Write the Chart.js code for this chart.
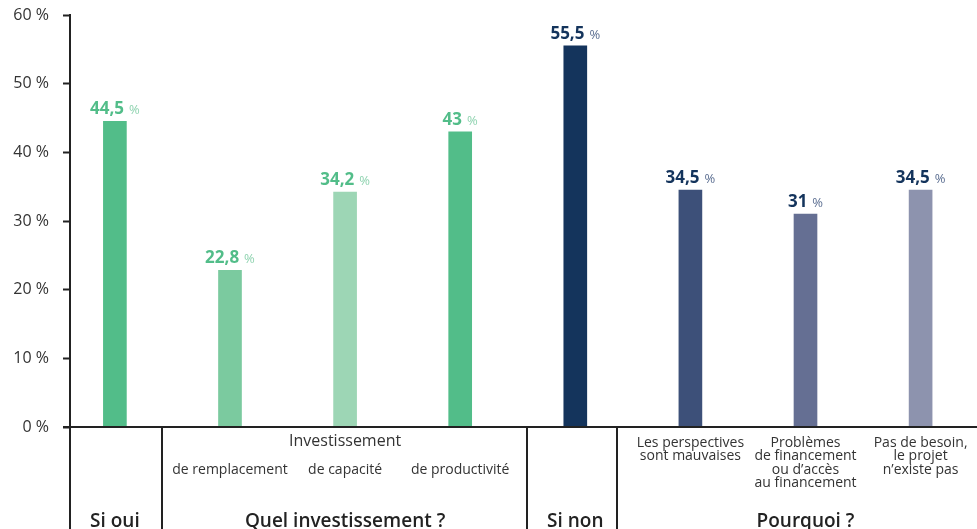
<!DOCTYPE html>
<html>
<head>
<meta charset="utf-8">
<script src="https://cdn.jsdelivr.net/npm/chart.js@4"></script>
<style>
  html, body { margin: 0; padding: 0; background: #fff; }
  #wrap { width: 977px; height: 529px; }
</style>
</head>
<body>
<div id="wrap"><canvas id="invest_chart" width="977" height="529"></canvas></div>
<script>
// Données
const values = [44.5, 22.8, 34.2, 43, 55.5, 34.5, 31, 34.5];
const barLabels = [
  [],
  ['de remplacement'],
  ['de capacité'],
  ['de productivité'],
  [],
  ['Les perspectives', 'sont mauvaises'],
  ['Problèmes', 'de financement', 'ou d’accès', 'au financement'],
  ['Pas de besoin,', 'le projet', 'n’existe pas']
];
const groupTitles = ['Si oui', 'Quel investissement ?', 'Si non', 'Pourquoi ?'];
const groupOfBar = [0, 1, 1, 1, 2, 3, 3, 3];
const groupSubtitles = ['', 'Investissement', '', ''];
const yTicks = [0, 10, 20, 30, 40, 50, 60];

// Styles
const FONT = "'Open Sans', sans-serif";
const barColors = ['#52bd89', '#7bca9f', '#9dd6b5', '#52bd89', '#14345c', '#3d5079', '#656f93', '#8d93ae'];
const numColors = ['#52bd89', '#52bd89', '#52bd89', '#52bd89', '#14345c', '#14345c', '#14345c', '#14345c'];
const pctColors = ['#8fd3b0', '#8fd3b0', '#8fd3b0', '#8fd3b0', '#5c6f92', '#5c6f92', '#5c6f92', '#5c6f92'];
// bords des groupes sous l'axe (en unités de l'axe x)
const separators = [0.41, 3.58, 4.36];

const decor = {
  id: 'decor',
  afterDraw(chart) {
    const ctx = chart.ctx;
    const area = chart.chartArea;
    const xs = chart.scales.x;
    const meta = chart.getDatasetMeta(0);
    ctx.save();

    // axe x + séparateurs
    ctx.strokeStyle = '#222';
    ctx.lineWidth = 2;
    ctx.beginPath();
    ctx.moveTo(area.left - 7, area.bottom);
    ctx.lineTo(area.right, area.bottom);
    ctx.moveTo(area.left, area.bottom);
    ctx.lineTo(area.left, chart.height);
    separators.forEach(s => {
      const px = Math.round(xs.getPixelForValue(s));
      ctx.moveTo(px, area.bottom);
      ctx.lineTo(px, chart.height);
    });
    ctx.stroke();

    // étiquettes de valeur
    ctx.textBaseline = 'alphabetic';
    meta.data.forEach((el, i) => {
      const num = String(values[i]).replace('.', ',');
      ctx.font = 'bold 17px ' + FONT;
      const wn = ctx.measureText(num).width;
      ctx.font = '13px ' + FONT;
      const wp = ctx.measureText('%').width;
      const total = wn + 5 + wp;
      const x0 = el.x - total / 2;
      const y = el.y - 7;
      ctx.textAlign = 'left';
      ctx.font = 'bold 17px ' + FONT;
      ctx.fillStyle = numColors[i];
      ctx.fillText(num, x0, y);
      ctx.font = '13px ' + FONT;
      ctx.fillStyle = pctColors[i];
      ctx.fillText('%', x0 + wn + 5, y);
    });

    // libellés des barres
    ctx.textAlign = 'center';
    ctx.textBaseline = 'middle';
    ctx.fillStyle = '#333';
    ctx.font = '14px ' + FONT;
    meta.data.forEach((el, i) => {
      const lines = barLabels[i];
      const single = lines.length === 1 && groupSubtitles[groupOfBar[i]];
      const y0 = single ? area.bottom + 43 : area.bottom + 16;
      lines.forEach((t, k) => ctx.fillText(t, el.x, y0 + k * 13.3));
    });

    // titres de groupe
    groupTitles.forEach((t, g) => {
      const bars = meta.data.filter((el, i) => groupOfBar[i] === g);
      const cx = (bars[0].x + bars[bars.length - 1].x) / 2;
      if (groupSubtitles[g]) {
        ctx.font = '16px ' + FONT;
        ctx.fillStyle = '#333';
        ctx.fillText(groupSubtitles[g], cx, area.bottom + 14);
      }
      ctx.font = '600 19px ' + FONT;
      ctx.fillStyle = '#222';
      ctx.fillText(t, cx, area.bottom + 95);
    });
    ctx.restore();
  }
};

new Chart(document.getElementById('invest_chart').getContext('2d'), {
  type: 'bar',
  data: {
    datasets: [{
      data: values.map((v, i) => ({ x: i, y: v })),
      backgroundColor: barColors,
      barThickness: 23
    }]
  },
  options: {
    responsive: false,
    animation: false,
    layout: { padding: { top: 15, bottom: 102, right: 0, left: 0 } },
    plugins: { legend: { display: false }, tooltip: { enabled: false } },
    scales: {
      x: {
        type: 'linear',
        min: -0.39,
        max: 7.49,
        offset: false,
        display: false
      },
      y: {
        min: 0,
        max: 60,
        afterFit: s => { s.width = 70; s.paddingTop = 0; s.paddingBottom = 0; },
        afterBuildTicks: s => { s.ticks = yTicks.map(v => ({ value: v })); },
        border: { display: true, color: '#222', width: 2 },
        grid: { drawOnChartArea: false, tickLength: 7, tickColor: '#222', tickWidth: 2 },
        ticks: {
          padding: 14,
          color: '#333',
          font: { family: FONT, size: 16 },
          callback: v => v + ' %'
        }
      }
    }
  },
  plugins: [decor]
});
</script>
</body>
</html>
